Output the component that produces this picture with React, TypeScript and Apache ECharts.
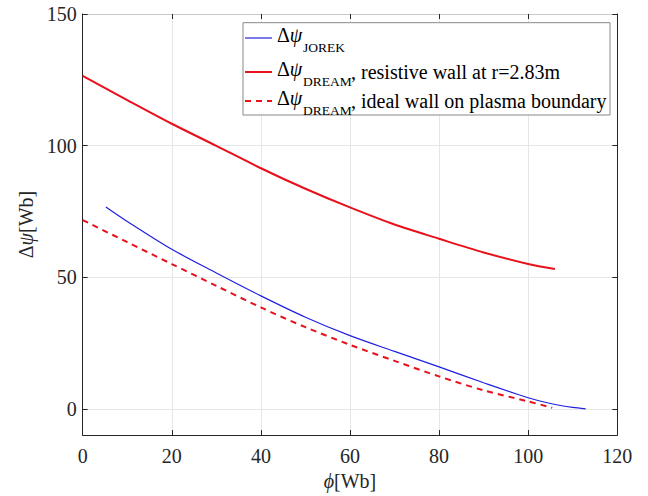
import React, { useEffect, useRef } from "react";
import * as echarts from "echarts";

// phi [Wb] / delta psi [Wb]
const jorekPhi = [5.2, 10, 20, 30, 40, 50, 60, 70, 80, 90, 100, 105, 110, 112.9];
const jorekVal = [76.7, 71.2, 60.6, 51.6, 42.9, 34.8, 27.8, 21.8, 15.9, 9.9, 4.2, 2.0, 0.5, 0];

const resistivePhi = [0, 10, 20, 30, 40, 50, 60, 70, 80, 90, 100, 106];
const resistiveVal = [126.5, 117.3, 108.3, 99.9, 91.4, 83.6, 76.5, 70.0, 64.6, 59.4, 55.0, 53.1];

const idealPhi = [0, 10, 20, 30, 40, 50, 60, 70, 80, 90, 100, 105.4];
const idealVal = [71.7, 63.3, 55.0, 46.7, 38.5, 31.0, 24.3, 18.2, 12.3, 7.0, 2.8, 0.4];

const xTicks = [0, 20, 40, 60, 80, 100, 120];
const yTicks = [0, 50, 100, 150];

const FONT = "Liberation Serif";
const AX = "#262626";
const GRID = "#e6e6e6";
const BLUE = "#2020e0";
const RED = "#e8101a";

const pairs = (xs: number[], ys: number[]) => xs.map((x, i) => [x, ys[i]]);

export default function App() {
  const ref = useRef<HTMLDivElement>(null);
  useEffect(() => {
    if (!ref.current) return;
    const chart = echarts.init(ref.current, null, { renderer: "svg" });
    const gl = 82.7, gt = 14, gr = 617.3, gb = 443;
    const lgX = 243, lgY = 22.7, lgR = 610, lgB = 115;
    const rows = [38, 72, 101];
    const rich = {
      n: { fontFamily: FONT, fontSize: 20, color: "#000" },
      i: { fontFamily: FONT, fontSize: 20, fontStyle: "italic", color: "#000" },
    };
    const deltaPsi = (y: number) => ({
      type: "text",
      x: 277,
      y: y - 3,
      z: 12,
      style: { text: "{n|Δ}{i|ψ}", rich, verticalAlign: "middle", align: "left" },
    });
    const sub = (t: string, y: number) => ({
      type: "text",
      x: 303,
      y: y + 9,
      z: 12,
      style: { text: t, fontFamily: FONT, fontSize: 13.5, fill: "#000", verticalAlign: "middle", align: "left" },
    });
    const main = (t: string, y: number) => ({
      type: "text",
      x: 351,
      y: y,
      z: 12,
      style: { text: t, fontFamily: FONT, fontSize: 20, fill: "#000", verticalAlign: "middle", align: "left" },
    });
    const option: any = {
      animation: false,
      backgroundColor: "#fff",
      grid: { left: gl, top: gt, width: gr - gl, height: gb - gt, containLabel: false },
      xAxis: [
        {
          type: "value",
          min: 0,
          max: 120,
          interval: 20,
          position: "bottom",
          axisLine: { show: true, onZero: false, lineStyle: { color: AX, width: 1 } },
          axisTick: { show: true, inside: true, length: 5, lineStyle: { color: AX } },
          axisLabel: {
            color: AX,
            fontFamily: FONT,
            fontSize: 20,
            margin: 11,
            customValues: xTicks,
          },
          splitLine: { show: true, lineStyle: { color: GRID, width: 1 } },
          name: "{i|ϕ}[Wb]",
          nameLocation: "middle",
          nameGap: 33,
          nameTextStyle: {
            color: AX,
            fontFamily: FONT,
            fontSize: 20,
            rich: { i: { fontFamily: FONT, fontSize: 20, fontStyle: "italic", color: AX } },
          },
        },
        {
          type: "value",
          min: 0,
          max: 120,
          interval: 20,
          position: "top",
          axisLine: { show: true, onZero: false, lineStyle: { color: "#c8c8c8", width: 1 } },
          axisTick: { show: true, inside: true, length: 5, lineStyle: { color: AX } },
          axisLabel: { show: false },
          splitLine: { show: false },
        },
      ],
      yAxis: [
        {
          type: "value",
          min: -10,
          max: 150,
          position: "left",
          axisLine: { show: true, onZero: false, lineStyle: { color: AX, width: 1 } },
          axisTick: { show: true, inside: true, length: 5, lineStyle: { color: AX }, customValues: yTicks },
          axisLabel: {
            color: AX,
            fontFamily: FONT,
            fontSize: 20,
            margin: 6,
            customValues: yTicks,
          },
          splitLine: { show: true, lineStyle: { color: GRID, width: 1 } },
          name: "Δ{i|ψ}[Wb]",
          nameLocation: "middle",
          nameGap: 30,
          nameRotate: 90,
          nameTextStyle: {
            color: AX,
            fontFamily: FONT,
            fontSize: 20,
            rich: { i: { fontFamily: FONT, fontSize: 20, fontStyle: "italic", color: AX } },
          },
        },
        {
          type: "value",
          min: -10,
          max: 150,
          position: "right",
          axisLine: { show: true, onZero: false, lineStyle: { color: AX, width: 1 } },
          axisTick: { show: true, inside: true, length: 5, lineStyle: { color: AX }, customValues: yTicks },
          axisLabel: { show: false },
          splitLine: { show: false },
        },
      ],
      series: [
        {
          type: "line",
          name: "JOREK",
          data: pairs(jorekPhi, jorekVal),
          smooth: 0.3,
          showSymbol: false,
          lineStyle: { color: BLUE, width: 1.2 },
          itemStyle: { color: BLUE },
          z: 3,
        },
        {
          type: "line",
          name: "DREAM resistive",
          data: pairs(resistivePhi, resistiveVal),
          smooth: 0.3,
          showSymbol: false,
          lineStyle: { color: RED, width: 2 },
          itemStyle: { color: RED },
          z: 3,
        },
        {
          type: "line",
          name: "DREAM ideal",
          data: pairs(idealPhi, idealVal),
          smooth: 0.3,
          showSymbol: false,
          lineStyle: { color: RED, width: 2, type: [6, 5] },
          itemStyle: { color: RED },
          z: 3,
        },
      ],
      graphic: [
        {
          type: "rect",
          z: 10,
          shape: { x: lgX, y: lgY, width: lgR - lgX, height: lgB - lgY },
          style: { fill: "#fff", stroke: "#888", lineWidth: 1 },
        },
        { type: "line", z: 12, shape: { x1: 245, y1: rows[0], x2: 272, y2: rows[0] }, style: { stroke: BLUE, lineWidth: 1.2 } },
        { type: "line", z: 12, shape: { x1: 245, y1: rows[1], x2: 272, y2: rows[1] }, style: { stroke: RED, lineWidth: 2 } },
        { type: "line", z: 12, shape: { x1: 245, y1: rows[2], x2: 272, y2: rows[2] }, style: { stroke: RED, lineWidth: 2, lineDash: [6, 5] } },
        deltaPsi(rows[0]),
        sub("JOREK", rows[0]),
        deltaPsi(rows[1]),
        sub("DREAM", rows[1]),
        main(", resistive wall at r=2.83m", rows[1]),
        deltaPsi(rows[2]),
        sub("DREAM", rows[2]),
        main(", ideal wall on plasma boundary", rows[2]),
      ],
    };
    chart.setOption(option);
    return () => chart.dispose();
  }, []);
  return (
    <div
      ref={ref}
      style={{ position: "absolute", left: 0, top: 0, width: 648, height: 496 }}
    />
  );
}
